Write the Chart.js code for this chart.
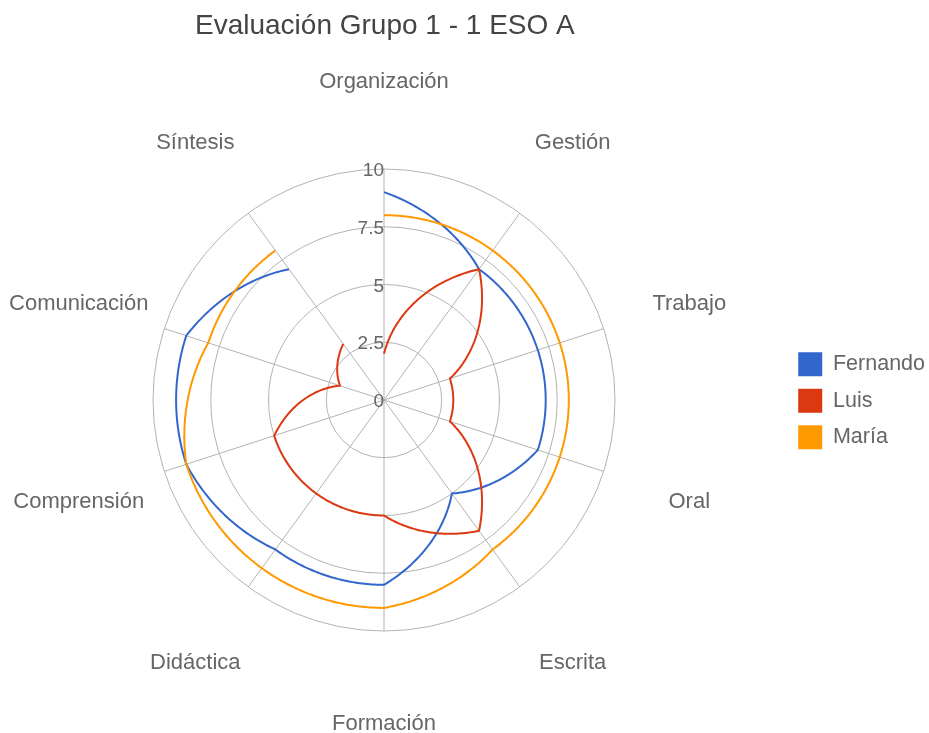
<!DOCTYPE html>
<html>
<head>
<meta charset="utf-8">
<script src="https://cdn.jsdelivr.net/npm/chart.js@4/dist/chart.umd.min.js"></script>
<style>
  html, body { margin: 0; padding: 0; background: #fff; overflow: hidden; }
  #wrap { width: 945px; height: 733px; margin-left: -16px; position: relative; }
</style>
</head>
<body>
<div id="wrap"><canvas id="chart"></canvas></div>
<script>
const CATEGORIES = ['Organización', 'Gestión', 'Trabajo', 'Oral', 'Escrita', 'Formación', 'Didáctica', 'Comprensión', 'Comunicación', 'Síntesis']
const FERNANDO = [9, 7, 7, 7, 5, 8, 8, 9, 9, 7]
const LUIS = [2, 7, 3, 3, 7, 5, 5, 5, 2, 3]
const MARIA = [8, 8, 8, 8, 8, 9, 9, 9, 8, 8]
const SERIES = ['Fernando', 'Luis', 'María']
const COLOUR = ['#3366CC', '#DC3912', '#FF9900']
const FONT = "'Liberation Sans', Arial, sans-serif"
const GRID = '#b3b3b3'

// draws each series as a polar line (radius changes linearly with the angle),
// then the axis labels and the tick values
const polarLines = {
  id: 'polarLines',
  afterDatasetsDraw(chart) {
    const r = chart.scales.r
    const ctx = chart.ctx
    const step = Math.PI * 2 / chart.data.labels.length
    chart.data.datasets.forEach((ds, di) => {
      if (!chart.isDatasetVisible(di)) return
      ctx.save()
      ctx.strokeStyle = COLOUR[di]
      ctx.lineWidth = 2
      ctx.lineJoin = 'round'
      ctx.beginPath()
      for (let i = 0; i < ds.data.length - 1; i++) {
        const d0 = r.getDistanceFromCenterForValue(ds.data[i])
        const d1 = r.getDistanceFromCenterForValue(ds.data[i + 1])
        const a0 = r.getIndexAngle(i) - Math.PI / 2
        for (let s = 0; s <= 48; s++) {
          const t = s / 48
          const a = a0 + step * t
          const d = d0 + (d1 - d0) * t
          const x = r.xCenter + Math.cos(a) * d
          const y = r.yCenter + Math.sin(a) * d
          if (i === 0 && s === 0) ctx.moveTo(x, y)
          else ctx.lineTo(x, y)
        }
      }
      ctx.stroke()
      ctx.restore()
    })
  },
  afterDraw(chart) {
    const r = chart.scales.r
    const ctx = chart.ctx
    ctx.save()
    ctx.textBaseline = 'middle'
    ctx.fillStyle = '#666'
    ctx.font = `22px ${FONT}`
    ctx.textAlign = 'center'
    chart.data.labels.forEach((lab, i) => {
      const p = r.getPointPosition(i, r.drawingArea + 90)
      ctx.fillText(lab, p.x, p.y + 3)
    })
    ctx.font = `19px ${FONT}`
    ctx.textAlign = 'right'
    r.ticks.forEach((t) => {
      const d = r.getDistanceFromCenterForValue(t.value)
      ctx.fillText(t.label, r.xCenter, r.yCenter - d + 2)
    })
    ctx.restore()
  }
}

const datasets = [FERNANDO, LUIS, MARIA].map((data, i) => ({
  label: SERIES[i],
  data,
  backgroundColor: COLOUR[i],
  borderColor: COLOUR[i],
  borderWidth: 0,
  pointRadius: 0,
  fill: false,
  showLine: false
}))

const chart = new Chart(document.getElementById('chart'), {
  type: 'radar',
  data: { labels: CATEGORIES, datasets },
  options: {
    responsive: true,
    maintainAspectRatio: false,
    animation: false,
    layout: { padding: { top: 0, bottom: 101, left: 0, right: -6 } },
    scales: {
      r: {
        min: 0,
        max: 10,
        ticks: { stepSize: 2.5, display: false },
        grid: { circular: true, color: GRID },
        angleLines: { color: GRID },
        pointLabels: { display: false }
      }
    },
    plugins: {
      title: {
        display: true,
        text: 'Evaluación Grupo 1 - 1 ESO A',
        fullSize: false,
        color: '#444',
        font: { size: 28, weight: 'normal', family: FONT },
        padding: { top: 9, bottom: 127 }
      },
      legend: {
        position: 'right',
        fullSize: false,
        labels: {
          boxWidth: 24,
          boxHeight: 24,
          padding: 12.5,
          color: '#666',
          font: { size: 21.5, family: FONT }
        }
      },
      tooltip: { enabled: false }
    }
  },
  plugins: [polarLines]
})
</script>
</body>
</html>
